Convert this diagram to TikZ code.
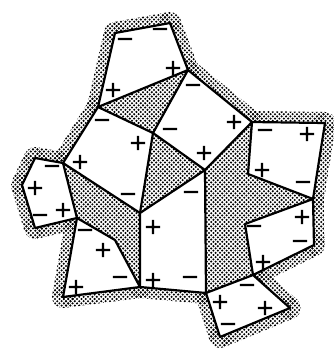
\documentclass[tikz,border=0pt]{standalone}
\usepackage{fontspec}
\newfontfamily\signfont{DejaVu Sans}[FakeBold=1.5]
\usetikzlibrary{patterns,calc}
\pgfdeclarepatternformonly{stip}{\pgfqpoint{-1.5pt}{-1.5pt}}{\pgfqpoint{5.5pt}{5.5pt}}{\pgfqpoint{4.4pt}{4.4pt}}{%
  \pgfpathcircle{\pgfqpoint{0pt}{0pt}}{1.15pt}%
  \pgfpathcircle{\pgfqpoint{2.2pt}{2.2pt}}{1.15pt}%
  \pgfusepath{fill}}
\tikzset{
  halo/.style={pattern=stip},
  shadereg/.style={pattern=stip},
  cell/.style={draw, line width=2.2pt, line join=round},
  sgn/.style={font=\signfont\fontsize{22}{22}\selectfont, inner sep=0pt},
}
\begin{document}
\begin{tikzpicture}[x=1pt,y=-1pt]
\useasboundingbox (0,0) rectangle (334,354);
% vertices
\coordinate (vA) at (115,33);
\coordinate (vB) at (170,23);
\coordinate (vC) at (188,70);
\coordinate (vD) at (98,107);
\coordinate (vE) at (153,133);
\coordinate (vF) at (252,122);
\coordinate (vG) at (205,170);
\coordinate (vH) at (63,163);
\coordinate (vI) at (140,213);
\coordinate (vJ) at (325,123);
\coordinate (vK) at (313,199);
\coordinate (vL) at (248,174);
\coordinate (vM) at (245,224);
\coordinate (vN) at (314,245);
\coordinate (vO) at (253,275);
\coordinate (vP) at (206,293);
\coordinate (vQ) at (290,308);
\coordinate (vR) at (220,337);
\coordinate (vS) at (140,287);
\coordinate (vT) at (63,297);
\coordinate (vU) at (77,218);
\coordinate (vV) at (115,240);
\coordinate (vW) at (35,158);
\coordinate (vX) at (22,185);
\coordinate (vY) at (35,228);
% stippled halo
\foreach \a/\b in {vA/vB,vB/vC,vC/vF,vF/vJ,vJ/vK,vK/vN,vN/vO,vO/vQ,vQ/vR,vR/vP,vP/vS,vS/vT,vT/vU,vU/vY,vY/vX,vX/vW,vW/vH,vH/vD,vD/vA}{
  \fill[halo] ($(\a)!11pt!90:(\b)$) -- ($(\b)!11pt!-90:(\a)$) -- ($(\b)!11pt!90:(\a)$) -- ($(\a)!11pt!-90:(\b)$) -- cycle;
  \fill[halo] (\a) circle[radius=11pt];
}
\fill[white] (vA) -- (vB) -- (vC) -- (vF) -- (vJ) -- (vK) -- (vN) -- (vO) -- (vQ) -- (vR) -- (vP) -- (vS) -- (vT) -- (vU) -- (vY) -- (vX) -- (vW) -- (vH) -- (vD) -- cycle;
% shaded regions
\fill[shadereg] (vD) -- (vC) -- (vE) -- cycle;
\fill[shadereg] (vE) -- (vG) -- (vI) -- cycle;
\fill[shadereg] (vH) -- (vI) -- (vS) -- (vV) -- (vU) -- cycle;
\fill[shadereg] (vG) -- (vF) -- (vL) -- (vK) -- (vM) -- (vO) -- (vP) -- cycle;
% cells
\draw[cell] (vA) -- (vB) -- (vC) -- (vD) -- cycle;
\draw[cell] (vD) -- (vE) -- (vI) -- (vH) -- cycle;
\draw[cell] (vE) -- (vC) -- (vF) -- (vG) -- cycle;
\draw[cell] (vF) -- (vJ) -- (vK) -- (vL) -- cycle;
\draw[cell] (vM) -- (vK) -- (vN) -- (vO) -- cycle;
\draw[cell] (vP) -- (vO) -- (vQ) -- (vR) -- cycle;
\draw[cell] (vI) -- (vG) -- (vP) -- (vS) -- cycle;
\draw[cell] (vU) -- (vV) -- (vS) -- (vT) -- cycle;
\draw[cell] (vW) -- (vH) -- (vU) -- (vY) -- (vX) -- cycle;
% signs
\node[sgn] (s1) at (125,42) {−};
\node[sgn] (s2) at (160,32) {−};
\node[sgn] (s3) at (173,68) {+};
\node[sgn] (s4) at (113,90) {+};
\node[sgn] (s5) at (102,123) {−};
\node[sgn] (s6) at (138,143) {+};
\node[sgn] (s7) at (80,162) {+};
\node[sgn] (s8) at (128,197) {−};
\node[sgn] (s9) at (170,132) {−};
\node[sgn] (s10) at (193,88) {−};
\node[sgn] (s11) at (234,122) {+};
\node[sgn] (s12) at (204,153) {+};
\node[sgn] (s13) at (265,133) {−};
\node[sgn] (s14) at (307,134) {+};
\node[sgn] (s15) at (262,170) {+};
\node[sgn] (s16) at (303,185) {−};
\node[sgn] (s17) at (254,229) {−};
\node[sgn] (s18) at (302,217) {+};
\node[sgn] (s19) at (300,244) {−};
\node[sgn] (s20) at (263,262) {+};
\node[sgn] (s21) at (247,288) {−};
\node[sgn] (s22) at (220,302) {+};
\node[sgn] (s23) at (265,308) {+};
\node[sgn] (s24) at (228,327) {−};
\node[sgn] (s25) at (191,195) {−};
\node[sgn] (s26) at (153,227) {+};
\node[sgn] (s27) at (153,280) {+};
\node[sgn] (s28) at (190,280) {−};
\node[sgn] (s29) at (85,233) {−};
\node[sgn] (s30) at (103,250) {+};
\node[sgn] (s31) at (120,280) {−};
\node[sgn] (s32) at (76,287) {+};
\node[sgn] (s33) at (52,169) {−};
\node[sgn] (s34) at (35,188) {+};
\node[sgn] (s35) at (63,210) {+};
\node[sgn] (s36) at (40,218) {−};
\end{tikzpicture}
\end{document}
